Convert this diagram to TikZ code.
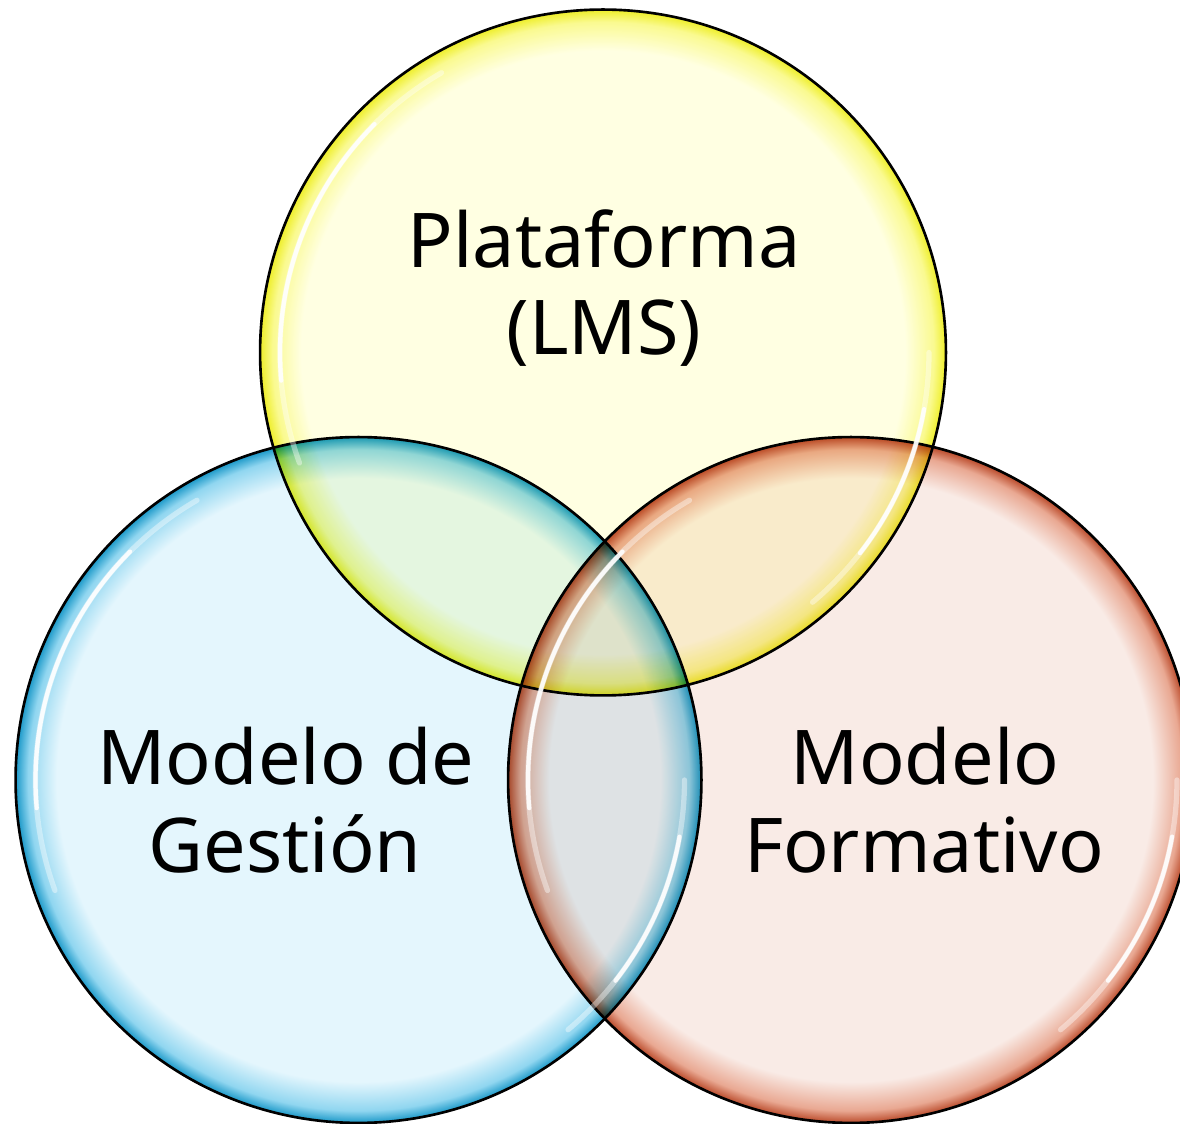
\documentclass[tikz,border=0pt]{standalone}
\usepackage{fontspec}
\setmainfont{Noto Sans}
\usetikzlibrary{calc}
\definecolor{yin}{HTML}{FFFFE2}
\definecolor{ymid}{HTML}{FAFA90}
\definecolor{yrim}{HTML}{EEEE28}
\definecolor{bin}{HTML}{E4F6FD}
\definecolor{bmid}{HTML}{90D6F0}
\definecolor{brim}{HTML}{1A98C8}
\definecolor{rin}{HTML}{F9EBE6}
\definecolor{rmid}{HTML}{E9A892}
\definecolor{rrim}{HTML}{BA4A2A}
\pgfdeclareradialshading{yshade}{\pgfpoint{0bp}{0bp}}{color(0bp)=(yin); color(22bp)=(yin); color(24.1bp)=(ymid); color(25bp)=(yrim); color(50bp)=(yrim)}
\pgfdeclareradialshading{bshade}{\pgfpoint{0bp}{0bp}}{color(0bp)=(bin); color(22bp)=(bin); color(24.1bp)=(bmid); color(25bp)=(brim); color(50bp)=(brim)}
\pgfdeclareradialshading{rshade}{\pgfpoint{0bp}{0bp}}{color(0bp)=(rin); color(22bp)=(rin); color(24.1bp)=(rmid); color(25bp)=(rrim); color(50bp)=(rrim)}
\tikzset{
  venn/.style={circle, minimum size=13.72cm, inner sep=0pt, outer sep=0pt, draw=black, line width=1.5pt},
  lbl/.style={anchor=base, inner sep=0pt, font=\fontsize{43}{49}\selectfont, text=black},
  hlA/.style={draw=white, line width=3pt, line cap=round, opacity=0.4},
  hlB/.style={draw=white, line width=2.4pt, line cap=round, opacity=0.9},
}
\begin{document}
\begin{tikzpicture}[x=0.02cm,y=0.02cm]
\useasboundingbox (0,0) rectangle (1180,1123);
\fill[white] (0,0) rectangle (1180,1123);
\begin{scope}[blend mode=multiply]
\node[venn, shading=yshade] (ycirc) at (603,770.5) {};
\node[venn, shading=bshade] (bcirc) at (358.5,343) {};
\node[venn, shading=rshade] (rcirc) at (851,343) {};
\end{scope}
% glossy highlights
\foreach \c in {ycirc,bcirc,rcirc}{
  \draw[hlA] ([shift={(120:323)}]\c.center) arc[start angle=120,end angle=200,radius=323];
  \draw[hlB] ([shift={(135:323)}]\c.center) arc[start angle=135,end angle=185,radius=323];
  \draw[hlA] ([shift={(-50:326)}]\c.center) arc[start angle=-50,end angle=0,radius=326];
  \draw[hlB] ([shift={(-38:326)}]\c.center) arc[start angle=-38,end angle=-10,radius=326];
}
\node[lbl] (t1a) at (604,855) {Plataforma};
\node[lbl] (t1b) at (604,768) {(LMS)};
\node[lbl] (t2a) at (286,338) {Modelo de};
\node[lbl] (t2b) at (285,251) {Gestión};
\node[lbl] (t3a) at (925,338) {Modelo};
\node[lbl] (t3b) at (924,251) {Formativo};
\end{tikzpicture}
\end{document}
